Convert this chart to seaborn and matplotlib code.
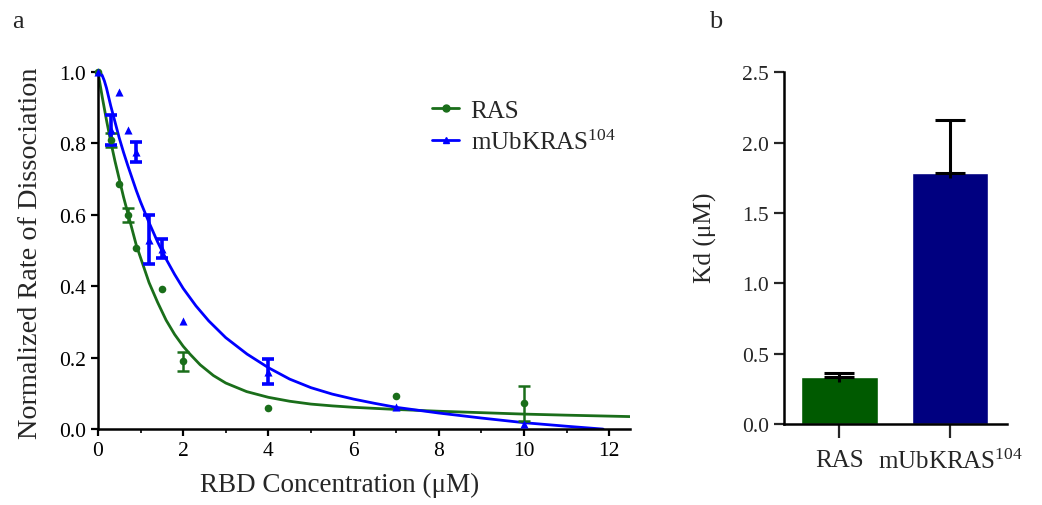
import matplotlib
matplotlib.use('Agg')
import matplotlib.pyplot as plt
from matplotlib.lines import Line2D
from matplotlib.ticker import MultipleLocator
import pandas as pd
import seaborn as sns

# raw points, panel a
ras_x = [0, 0.3, 0.5, 0.7, 0.9, 1.5, 2, 4, 7, 10]
ras_y = [1.0, 0.81, 0.686, 0.60, 0.506, 0.392, 0.19, 0.058, 0.092, 0.072]
ras_err = [0, 0.02, 0, 0.02, 0, 0, 0.027, 0, 0, 0.048]

mub_x = [0, 0.3, 0.5, 0.7, 0.9, 1.2, 1.5, 2, 4, 7, 10]
mub_y = [1.0, 0.836, 0.945, 0.838, 0.775, 0.53, 0.505, 0.303, 0.16, 0.063, 0.014]
mub_err = [0, 0.042, 0, 0, 0.028, 0.068, 0.027, 0, 0.035, 0, 0]

# fitted curves
ras_fit_x = [0, 0.1, 0.2, 0.3, 0.4, 0.5, 0.6, 0.7, 0.8, 0.9, 1.0, 1.2, 1.4, 1.6,
             1.8, 2.0, 2.16, 2.4, 2.71, 3.0, 3.49, 4.0, 4.5, 5.0, 5.5, 6.0, 7.0,
             8.0, 9.0, 10.0, 11.0, 12.5]
ras_fit_y = [1.0, 0.93, 0.865, 0.805, 0.75, 0.70, 0.65, 0.605, 0.56, 0.515, 0.48,
             0.41, 0.355, 0.305, 0.265, 0.232, 0.21, 0.18, 0.15, 0.129, 0.105,
             0.089, 0.078, 0.070, 0.065, 0.061, 0.055, 0.050, 0.046, 0.042, 0.039,
             0.035]
mub_fit_x = [0, 0.05, 0.1, 0.15, 0.2, 0.3, 0.4, 0.5, 0.6, 0.7, 0.8, 0.9, 1.0, 1.2,
             1.4, 1.6, 1.8, 2.0, 2.3, 2.6, 3.0, 3.5, 4.0, 4.5, 5.0, 5.5, 6.0, 6.5,
             7.0, 8.0, 9.0, 10.0, 11.0, 11.86]
mub_fit_y = [1.0, 0.998, 0.99, 0.975, 0.955, 0.905, 0.86, 0.815, 0.775, 0.738,
             0.703, 0.668, 0.636, 0.578, 0.524, 0.476, 0.433, 0.394, 0.345, 0.303,
             0.256, 0.210, 0.172, 0.140, 0.116, 0.098, 0.084, 0.072, 0.061, 0.045,
             0.031, 0.018, 0.008, 0.0]

# panel b
kd_labels = ['RAS', 'mUbKRAS$^{\\mathrm{104}}$']
kd_values = [0.335, 1.785]
kd_err = [0.03, 0.375]

green = '#1a6e1a'
blue = '#0000ff'

sns.set_style('ticks')
plt.rcParams['font.family'] = ['Liberation Serif', 'DejaVu Serif']
plt.rcParams['mathtext.fontset'] = 'custom'
plt.rcParams['mathtext.rm'] = 'Liberation Serif'
plt.rcParams['mathtext.it'] = 'Liberation Serif:italic'

fig = plt.figure(figsize=(10.42, 5.06), dpi=100)
ax1 = fig.add_axes([0.094, 0.150, 0.511, 0.706])
ax2 = fig.add_axes([0.752, 0.160, 0.214, 0.695])

# panel a
sns.lineplot(x=ras_fit_x, y=ras_fit_y, color=green, lw=2, ax=ax1)
sns.lineplot(x=mub_fit_x, y=mub_fit_y, color=blue, lw=2, ax=ax1)
sns.scatterplot(x=ras_x, y=ras_y, color=green, marker='o', s=30, linewidth=0,
                ax=ax1, zorder=4, clip_on=False)
sns.scatterplot(x=mub_x, y=mub_y, color=blue, marker='^', s=34, linewidth=0,
                ax=ax1, zorder=5, clip_on=False)

ras = pd.DataFrame({'x': ras_x, 'y': ras_y, 'e': ras_err})
ras = ras[ras.e > 0]
ax1.errorbar(ras.x, ras.y, yerr=ras.e, fmt='none', ecolor=green, elinewidth=1.8,
             capsize=4, capthick=1.8, zorder=3)
mub = pd.DataFrame({'x': mub_x, 'y': mub_y, 'e': mub_err})
mub = mub[mub.e > 0]
ax1.errorbar(mub.x, mub.y, yerr=mub.e, fmt='none', ecolor=blue, elinewidth=2.6,
             capsize=4, capthick=2.6, zorder=3)

ax1.set_xlim(0, 12.5)
ax1.set_ylim(0, 1.0)
ax1.xaxis.set_major_locator(MultipleLocator(2))
ax1.xaxis.set_minor_locator(MultipleLocator(1))
ax1.set_xticks([0, 2, 4, 6, 8, 10, 12])
ax1.set_xticklabels(['0', '2', '4', '6', '8', '10', '12'])
ax1.set_yticks([0, 0.2, 0.4, 0.6, 0.8, 1.0])
ax1.set_yticklabels(['0.0', '0.2', '0.4', '0.6', '0.8', '1.0'])
ax1.set_xlabel('RBD Concentration (μM)', fontsize=19.5, labelpad=12)
ax1.xaxis.set_label_coords(0.453, -0.12)
ax1.set_ylabel('Normalized Rate of Dissociation', fontsize=20.3)
ax1.yaxis.set_label_coords(-0.126, 0.496)
ax1.yaxis.label.set_va('center')
ax1.tick_params(axis='both', which='major', labelsize=15.5, length=5, width=1.6,
                direction='out', colors='black')
ax1.tick_params(axis='x', which='minor', length=3, width=1.4, direction='out')

handles = [Line2D([], [], color=green, lw=2, marker='o', markersize=5),
           Line2D([], [], color=blue, lw=2, marker='^', markersize=5)]
ax1.legend(handles, ['RAS', 'mUbKRAS$^{\\mathrm{104}}$'], loc='upper left',
           bbox_to_anchor=(0.585, 0.985), frameon=False, fontsize=18,
           handlelength=1.1, handletextpad=0.45, labelspacing=0.3)

# panel b
sns.barplot(x=kd_labels, y=kd_values, hue=kd_labels, palette=['#005a00', '#000080'],
            legend=False, width=0.69, saturation=1, ax=ax2)
ax2.errorbar([0, 1], kd_values, yerr=[[0, 0], kd_err], fmt='none',
             ecolor='black', elinewidth=2.2, capsize=11, capthick=2.2, zorder=3)
ax2.vlines([0, 1], [v - 0.035 for v in kd_values], kd_values, color='black',
           lw=2.2, zorder=3)
ax2.set_xlim(-0.505, 1.51)
ax2.set_ylim(0, 2.5)
ax2.set_yticks([0, 0.5, 1.0, 1.5, 2.0, 2.5])
ax2.set_yticklabels(['0.0', '0.5', '1.0', '1.5', '2.0', '2.5'])
ax2.set_ylabel('Kd (μM)', fontsize=18.3)
ax2.yaxis.set_label_coords(-0.35, 0.533)
ax2.yaxis.label.set_va('center')
ax2.tick_params(axis='y', labelsize=15.5, length=7, width=1.6, direction='out')
ax2.tick_params(axis='x', labelsize=18, length=10, width=1.6, direction='out', pad=8)

for ax in (ax1, ax2):
    sns.despine(ax=ax)
    for s in ('left', 'bottom'):
        ax.spines[s].set_linewidth(1.8)
        ax.spines[s].set_color('black')

fig.text(0.012, 0.945, 'a', fontsize=19)
fig.text(0.680, 0.945, 'b', fontsize=19)

fig.savefig('out.png', dpi=100)
